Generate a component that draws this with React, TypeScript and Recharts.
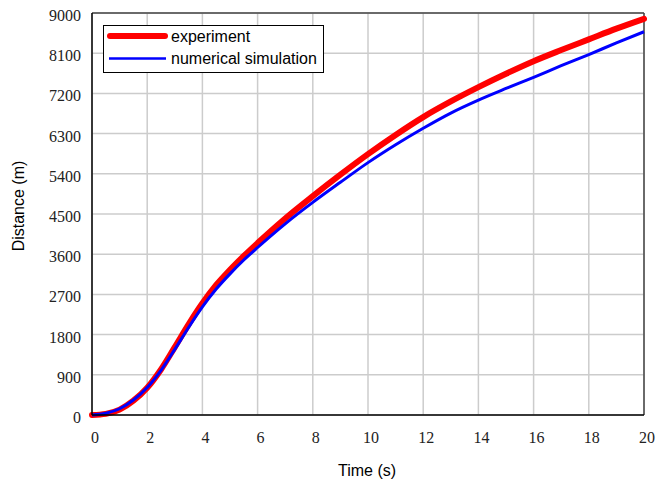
import React from 'react';
import {
  LineChart,
  Line,
  XAxis,
  YAxis,
  CartesianGrid,
  ReferenceLine,
  Legend,
  Label,
} from 'recharts';

// time axis (s)
const times = [
  0, 0.5, 1, 1.5, 2, 2.5, 3, 3.5, 4, 4.5, 5, 5.5, 6, 7, 8, 9, 10, 11, 12, 13, 14, 15, 16, 17, 18, 19, 20,
];

// measured distance (m)
const experiment = [
  0, 25, 120, 320, 610, 1020, 1520, 2030, 2500, 2910, 3250, 3560, 3850, 4400, 4900, 5380, 5840, 6270, 6670,
  7020, 7340, 7640, 7920, 8170, 8410, 8650, 8870,
];

// simulated distance (m)
const simulation = [
  0, 40, 140, 335, 615, 1000, 1470, 1960, 2420, 2820, 3160, 3470, 3750, 4280, 4760, 5210, 5650, 6050, 6420,
  6760, 7050, 7310, 7560, 7820, 8070, 8330, 8580,
];

const xTicks = [0, 2, 4, 6, 8, 10, 12, 14, 16, 18, 20];
const yTicks = [0, 900, 1800, 2700, 3600, 4500, 5400, 6300, 7200, 8100, 9000];

const seriesNames = ['experiment', 'numerical simulation'];

const chartData = times.map((t, i) => ({
  t,
  experiment: experiment[i],
  simulation: simulation[i],
}));

const serif = "'Liberation Serif', 'DejaVu Serif', serif";
const sans = "'Liberation Sans', Arial, sans-serif";

const YTick = (props: any) => {
  const { x, y, payload } = props;
  return (
    <text x={x - 3} y={y + 8} textAnchor="end" style={{ fontFamily: serif, fontSize: 16 }} fill="#222">
      {payload.value}
    </text>
  );
};

const XTick = (props: any) => {
  const { x, y, payload } = props;
  return (
    <text x={x + 3} y={y + 20} textAnchor="middle" style={{ fontFamily: serif, fontSize: 16 }} fill="#222">
      {payload.value}
    </text>
  );
};

const renderLegend = () => (
  <div
    style={{
      width: 219,
      height: 46,
      border: '1.5px solid #000',
      background: '#fff',
      position: 'relative',
    }}
  >
    <svg width={219} height={46} style={{ position: 'absolute', left: 0, top: 0 }}>
      <line x1={6} y1={10} x2={61} y2={10} stroke="#ff0000" strokeWidth={6} strokeLinecap="round" />
      <line x1={5} y1={32.5} x2={62} y2={32.5} stroke="#0000ff" strokeWidth={2.5} />
      <text x={67} y={16} style={{ fontFamily: sans, fontSize: 16 }} fill="#000">
        {seriesNames[0]}
      </text>
      <text x={67} y={38} style={{ fontFamily: sans, fontSize: 16 }} fill="#000">
        {seriesNames[1]}
      </text>
    </svg>
  </div>
);

export default function App() {
  return (
    <div style={{ position: 'absolute', left: 0, top: 0, width: 670, height: 482, background: '#fff' }}>
      <LineChart width={670} height={482} data={chartData} margin={{ top: 13, right: 26, bottom: 0, left: 0 }}>
        <CartesianGrid stroke="#cccccc" strokeWidth={1.5} horizontalValues={yTicks} verticalValues={xTicks} />
        <XAxis
          dataKey="t"
          type="number"
          domain={[0, 20]}
          ticks={xTicks}
          height={67}
          tick={<XTick />}
          tickLine={false}
          axisLine={{ stroke: '#000', strokeWidth: 1.5 }}
        >
          <Label
            content={() => (
              <text x={367} y={476} textAnchor="middle" style={{ fontFamily: sans, fontSize: 16 }} fill="#000">
                Time (s)
              </text>
            )}
          />
        </XAxis>
        <YAxis
          type="number"
          domain={[0, 9000]}
          ticks={yTicks}
          width={92}
          tick={<YTick />}
          tickLine={false}
          axisLine={{ stroke: '#000', strokeWidth: 1.5 }}
        >
          <Label
            content={() => (
              <text
                x={24}
                y={206}
                transform="rotate(-90 24 206)"
                textAnchor="middle"
                style={{ fontFamily: sans, fontSize: 16 }}
                fill="#000"
              >
                Distance (m)
              </text>
            )}
          />
        </YAxis>
        <ReferenceLine y={9000} stroke="#444" strokeWidth={1.5} />
        <ReferenceLine x={20} stroke="#444" strokeWidth={1.5} />
        <Legend
          layout="vertical"
          align="center"
          verticalAlign="middle"
          content={renderLegend}
          wrapperStyle={{ position: 'absolute', left: 103, top: 25, width: 222, height: 49 }}
        />
        <Line
          type="monotone"
          dataKey="experiment"
          name={seriesNames[0]}
          stroke="#ff0000"
          strokeWidth={6}
          strokeLinecap="round"
          dot={false}
          isAnimationActive={false}
        />
        <Line
          type="monotone"
          dataKey="simulation"
          name={seriesNames[1]}
          stroke="#0000ff"
          strokeWidth={3}
          dot={false}
          isAnimationActive={false}
        />
      </LineChart>
    </div>
  );
}
